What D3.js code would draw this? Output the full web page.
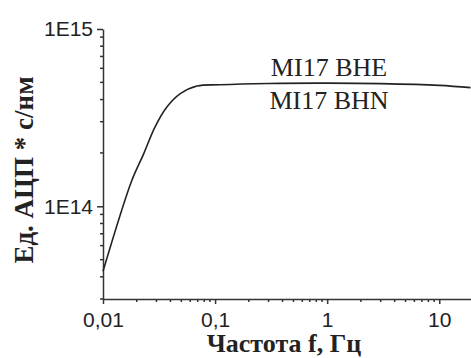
<!DOCTYPE html>
<html>
<head>
<meta charset="utf-8">
<script src="https://cdn.jsdelivr.net/npm/d3@7"></script>
<style>
  body { margin: 0; background: #fff; }
  svg { display: block; }
</style>
</head>
<body>
<div id="chart"></div>
<script>
// frequency response
const freq = [0.01, 0.018, 0.023, 0.029, 0.037, 0.049, 0.069, 0.11, 0.3, 1, 3, 10, 19];
const amp = [4.3e13, 1.39e14, 1.97e14, 2.79e14, 3.62e14, 4.32e14, 4.77e14, 4.85e14, 4.93e14, 4.95e14, 4.92e14, 4.81e14, 4.67e14];

const seriesNames = ["MI17 BHE", "MI17 BHN"];
const xTicks = [0.01, 0.1, 1, 10];
const xTickLabels = ["0,01", "0,1", "1", "10"];
const yTicks = [1e14, 1e15];
const yTickLabels = ["1E14", "1E15"];

const width = 471;
const height = 358;
const axisColor = "#333";

const svg = d3.select("#chart").append("svg")
    .attr("width", width)
    .attr("height", height);

const x = d3.scaleLog().domain([0.01, 20]).range([103, 473]);
const y = d3.scaleLog().domain([3e13, 1e15]).range([299, 29]);

// minor ticks (2..9 in each decade)
const xMinor = [];
[0.01, 0.1, 1, 10].forEach(d => { for (let k = 2; k <= 9; k++) if (d * k <= 20) xMinor.push(d * k); });
const yMinor = [];
[1e13, 1e14].forEach(d => { for (let k = 2; k <= 9; k++) if (d * k >= 3e13) yMinor.push(d * k); });

// x axis
const gx = svg.append("g").attr("transform", `translate(0,${y.range()[0]})`);
gx.call(d3.axisBottom(x).tickValues(xTicks).tickFormat((d, i) => xTickLabels[i]).tickSize(5).tickPadding(4).tickSizeOuter(0));
gx.append("g").attr("class", "minor").selectAll("line").data(xMinor).join("line")
    .attr("x1", d => x(d)).attr("x2", d => x(d))
    .attr("y1", 0).attr("y2", 3);

// y axis
const gy = svg.append("g").attr("transform", `translate(${x.range()[0]},0)`);
gy.call(d3.axisLeft(y).tickValues(yTicks).tickFormat((d, i) => yTickLabels[i]).tickSize(6).tickPadding(4).tickSizeOuter(0));
gy.append("g").attr("class", "minor").selectAll("line").data(yMinor).join("line")
    .attr("x1", 0).attr("x2", -3)
    .attr("y1", d => y(d)).attr("y2", d => y(d));

svg.selectAll(".domain, .tick line, .minor line")
    .attr("stroke", axisColor)
    .attr("stroke-width", 1.5);
gx.attr("font-size", 21).attr("font-family", "'Liberation Sans', Arial, sans-serif");
gy.attr("font-size", 21).attr("font-family", "'Liberation Sans', Arial, sans-serif");
svg.selectAll(".tick text").attr("fill", "#222");
gx.selectAll(".tick text").attr("dy", "0.9em");
gy.select(".tick:last-child text").attr("dy", "0.1em");

// response curve
const line = d3.line()
    .x((d, i) => x(freq[i]))
    .y(d => y(d))
    .curve(d3.curveCatmullRom.alpha(0.5));

svg.append("path")
    .datum(amp)
    .attr("d", line)
    .attr("fill", "none")
    .attr("stroke", "#222")
    .attr("stroke-width", 1.6);

// series labels, one above the curve, one below
svg.selectAll("text.series")
    .data(seriesNames)
    .join("text")
    .attr("class", "series")
    .attr("x", 329)
    .attr("y", (d, i) => i === 0 ? 76 : 109)
    .attr("text-anchor", "middle")
    .style("font-family", "'Liberation Serif', 'Times New Roman', serif")
    .style("font-size", "26px")
    .attr("fill", "#222")
    .text(d => d);

// axis titles
svg.append("text")
    .attr("x", 284)
    .attr("y", 352)
    .attr("text-anchor", "middle")
    .style("font-family", "'Liberation Serif', 'Times New Roman', serif")
    .style("font-weight", "bold")
    .style("font-size", "26px")
    .attr("fill", "#222")
    .text("Частота f, Гц");

svg.append("text")
    .attr("transform", "translate(33,170) rotate(-90)")
    .attr("text-anchor", "middle")
    .style("font-family", "'Liberation Serif', 'Times New Roman', serif")
    .style("font-weight", "bold")
    .style("font-size", "27px")
    .attr("fill", "#222")
    .text("Ед. АЦП * с/нм");
</script>
</body>
</html>
